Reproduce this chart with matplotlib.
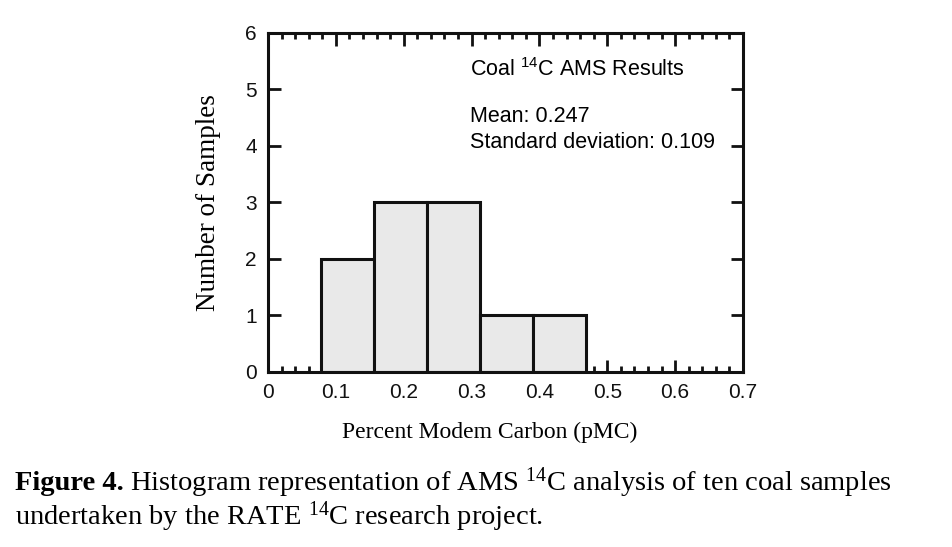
import matplotlib
matplotlib.use("Agg")
import matplotlib.pyplot as plt
from matplotlib.ticker import MultipleLocator

# histogram bins (pMC)
bin_edges = [0.078, 0.156, 0.234, 0.312, 0.390, 0.468]
counts = [2, 3, 3, 1, 1]
x_ticks = [0, 0.1, 0.2, 0.3, 0.4, 0.5, 0.6, 0.7]
x_labels = ["0", "0.1", "0.2", "0.3", "0.4", "0.5", "0.6", "0.7"]
y_ticks = [0, 1, 2, 3, 4, 5, 6]

SANS = "Liberation Sans"
SERIF = "Liberation Serif"
INK = "#111111"

plt.rcParams["font.family"] = SANS
plt.rcParams["mathtext.fontset"] = "custom"
plt.rcParams["mathtext.rm"] = SERIF

fig = plt.figure(figsize=(9.52, 5.47), dpi=100)
ax = fig.add_axes([0.2815, 0.320, 0.499, 0.620])

lefts = bin_edges[:-1]
widths = [b - a for a, b in zip(bin_edges[:-1], bin_edges[1:])]
ax.bar(lefts, counts, width=widths, align="edge", color="#e9e9e9",
       edgecolor=INK, linewidth=2.2, zorder=2)

ax.set_xlim(0, 0.7)
ax.set_ylim(0, 6)
ax.set_xticks(x_ticks)
ax.set_xticklabels(x_labels)
ax.set_yticks(y_ticks)
ax.xaxis.set_minor_locator(MultipleLocator(0.02))

for s in ax.spines.values():
    s.set_linewidth(2.2)
    s.set_color(INK)
    s.set_zorder(3)

ax.tick_params(which="major", direction="in", length=9, width=2, top=True, right=True,
               colors=INK, labelsize=15, pad=8)
ax.tick_params(which="minor", direction="in", length=4, width=2, top=True, right=False,
               colors=INK)

ax.set_xlabel("Percent Modem Carbon (pMC)", fontfamily=SERIF, fontsize=17)
ax.set_ylabel("Number of Samples", fontfamily=SERIF, fontsize=19.5)
ax.xaxis.set_label_coords(0.467, -0.177)
ax.xaxis.label.set_va("center")
ax.yaxis.set_label_coords(-0.126, 0.5)
ax.yaxis.label.set_va("center")

ax.text(0.425, 0.891, r"Coal $\mathregular{^{14}}$C AMS Results", transform=ax.transAxes,
        fontsize=15.5, va="center")
ax.text(0.425, 0.752, "Mean: 0.247", transform=ax.transAxes,
        fontsize=15.5, va="center")
ax.text(0.425, 0.676, "Standard deviation: 0.109", transform=ax.transAxes,
        fontsize=15.5, va="center")

# caption: bold lead-in, then the rest placed right after it
cap_size = 20.5
lead = fig.text(0.016, 0.104, "Figure 4.", fontfamily=SERIF, fontweight="bold",
                fontsize=cap_size, va="baseline")
fig.canvas.draw()
bb = lead.get_window_extent().transformed(fig.transFigure.inverted())
fig.text(bb.x1 + 0.006, 0.104,
         r"Histogram representation of AMS $\mathregular{^{14}}$C analysis of ten coal samples",
         fontfamily=SERIF, fontsize=cap_size, va="baseline")
fig.text(0.016, 0.041, r"undertaken by the RATE $\mathregular{^{14}}$C research project.",
         fontfamily=SERIF, fontsize=cap_size, va="baseline")

fig.savefig("out.png", dpi=100)
